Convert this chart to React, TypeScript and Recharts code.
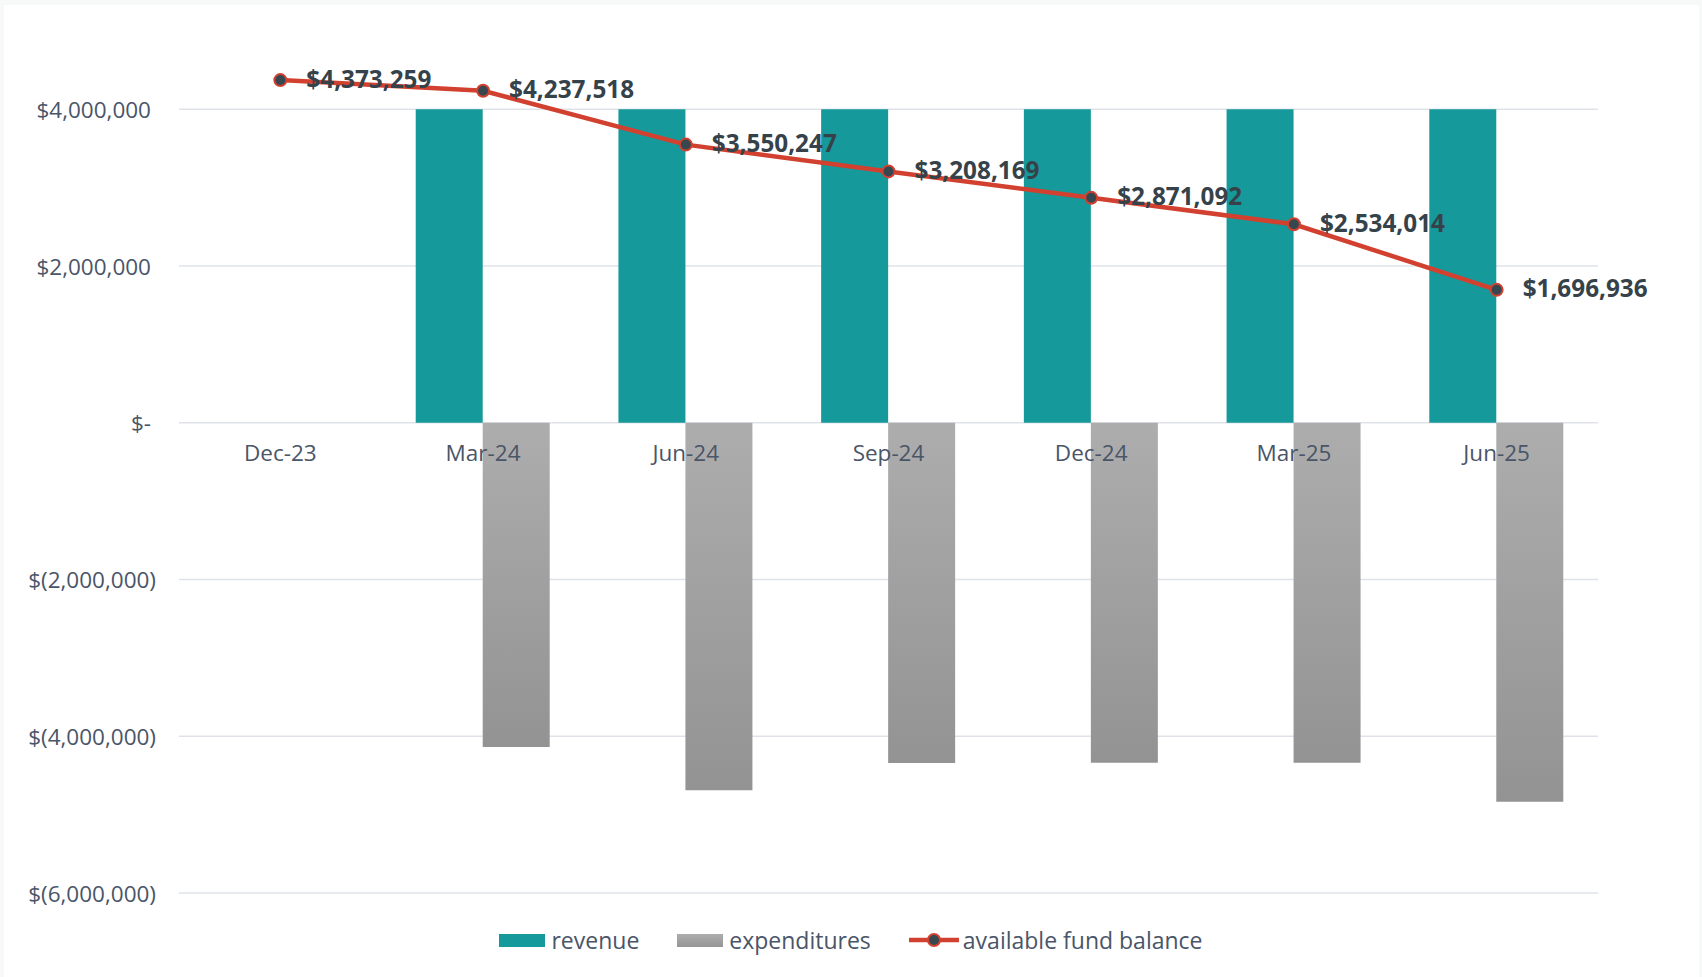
import React from "react";
import {
  ComposedChart,
  Bar,
  Line,
  XAxis,
  YAxis,
  CartesianGrid,
  LabelList,
} from "recharts";

// quarterly fund data
const months = ["Dec-23", "Mar-24", "Jun-24", "Sep-24", "Dec-24", "Mar-25", "Jun-25"];
const revenue = [null, 4000000, 4000000, 4000000, 4000000, 4000000, 4000000];
const expenditures = [null, -4135741, -4687271, -4342078, -4337077, -4337078, -4837078];
const fundBalance = [4373259, 4237518, 3550247, 3208169, 2871092, 2534014, 1696936];
const yTicks = [-6000000, -4000000, -2000000, 0, 2000000, 4000000];

const data = months.map((month, i) => ({
  month,
  revenue: revenue[i],
  expenditures: expenditures[i],
  balance: fundBalance[i],
}));

const TEAL = "#16999a";
const RED = "#d2412f";
const DOT = "#37474f";
const AXIS_TEXT = "#4a5568";
const LABEL_TEXT = "#36424a";
const FONT = "'Open Sans', sans-serif";

const fmtAxis = (v: number) => {
  if (v === 0) return "$-";
  const s = Math.abs(v).toLocaleString("en-US");
  return v < 0 ? `$(${s})` : `$${s}`;
};

const YTick = (props: any) => {
  const { x, y, payload } = props;
  const v = payload.value;
  return (
    <text
      x={v < 0 ? x : x - 5}
      y={y}
      textAnchor="end"
      dominantBaseline="central"
      fontFamily={FONT}
      fontSize={22.5}
      fill={AXIS_TEXT}
    >
      {fmtAxis(v)}
    </text>
  );
};

const BalanceLabel = (props: any) => {
  const { x, y, value } = props;
  return (
    <text
      x={x + 26}
      y={y - 2}
      dominantBaseline="central"
      fontFamily={FONT}
      fontWeight={700}
      fontSize={24.3}
      fill={LABEL_TEXT}
    >
      {"$" + Number(value).toLocaleString("en-US")}
    </text>
  );
};

const MonthLabel = (props: any) => {
  const { x, y, value } = props;
  return (
    <text
      x={x}
      y={y + 30}
      textAnchor="middle"
      dominantBaseline="central"
      fontFamily={FONT}
      fontSize={22.5}
      fill={AXIS_TEXT}
    >
      {value}
    </text>
  );
};

const LegendRow = () => (
  <div
    style={{
      position: "absolute",
      left: 0,
      top: 925,
      width: 1702,
      height: 30,
      display: "flex",
      justifyContent: "center",
      alignItems: "center",
      gap: 38,
      fontFamily: FONT,
      fontSize: 23,
      color: AXIS_TEXT,
    }}
  >
    <div style={{ display: "flex", alignItems: "center", gap: 6 }}>
      <span style={{ width: 46, height: 13, background: TEAL, display: "inline-block" }} />
      <span>revenue</span>
    </div>
    <div style={{ display: "flex", alignItems: "center", gap: 6 }}>
      <span
        style={{
          width: 46,
          height: 13,
          background: "linear-gradient(#adadad, #959595)",
          display: "inline-block",
        }}
      />
      <span>expenditures</span>
    </div>
    <div style={{ display: "flex", alignItems: "center", gap: 4 }}>
      <svg width={50} height={16}>
        <line x1={0} y1={8} x2={50} y2={8} stroke={RED} strokeWidth={4.5} />
        <circle cx={25} cy={8} r={6} fill={DOT} stroke={RED} strokeWidth={2} />
      </svg>
      <span>available fund balance</span>
    </div>
  </div>
);

export default function App() {
  return (
    <div style={{ position: "relative", width: 1702, height: 977, background: "#f7f8f8" }}>
      <style>{"body { margin: 0; }"}</style>
      <div
        style={{ position: "absolute", left: 4, top: 5, width: 1695, height: 972, background: "#fff" }}
      />
      <div style={{ position: "absolute", left: 0, top: 0 }}>
        <ComposedChart
          width={1702}
          height={977}
          data={data}
          margin={{ top: 31, right: 104, left: 0, bottom: 84 }}
          barGap={0}
        >
          <defs>
            <linearGradient id="expGrad" x1="0" y1="0" x2="0" y2="1">
              <stop offset="0%" stopColor="#adadad" />
              <stop offset="100%" stopColor="#939393" />
            </linearGradient>
          </defs>
          <CartesianGrid
            vertical={false}
            horizontalValues={yTicks}
            stroke="#dfe3e9"
            strokeWidth={1.5}
          />
          <XAxis dataKey="month" hide />
          <YAxis
            width={179}
            domain={[-6000000, 5000000]}
            ticks={yTicks}
            interval={0}
            axisLine={false}
            tickLine={false}
            tickMargin={17}
            tick={<YTick />}
          />
          <Bar dataKey="revenue" fill={TEAL} barSize={67} isAnimationActive={false} />
          <Bar
            dataKey="expenditures"
            fill="url(#expGrad)"
            barSize={67}
            isAnimationActive={false}
          />
          <Line
            dataKey={() => 0}
            stroke="none"
            dot={false}
            activeDot={false}
            isAnimationActive={false}
          >
            <LabelList dataKey="month" content={<MonthLabel />} />
          </Line>
          <Line
            dataKey="balance"
            stroke={RED}
            strokeWidth={4.5}
            dot={{ r: 6, fill: DOT, stroke: RED, strokeWidth: 2 }}
            activeDot={false}
            isAnimationActive={false}
          >
            <LabelList dataKey="balance" content={<BalanceLabel />} />
          </Line>
        </ComposedChart>
      </div>
      <LegendRow />
    </div>
  );
}
